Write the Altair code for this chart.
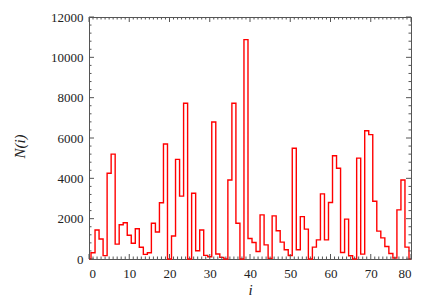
import altair as alt
import pandas as pd

# N(i), i = 0..79, closed with a zero at i = 80
counts = [0, 310, 1440, 990, 165, 4250, 5200, 740, 1700, 1800,
          1175, 780, 1500, 580, 230, 310, 1770, 1340, 2790, 5700,
          0, 1140, 4940, 3120, 7720, 0, 3260, 410, 1440, 180,
          110, 6790, 250, 80, 0, 3920, 7720, 1770, 0, 10880,
          1015, 820, 370, 2190, 700, 30, 2140, 1400, 835, 455,
          175, 5490, 455, 2100, 1480, 0, 590, 950, 3230, 950,
          2800, 5120, 4500, 320, 1975, 160, 0, 5000, 240, 6360,
          6165, 2865, 1380, 1050, 620, 270, 50, 2435, 3920, 590,
          0]
bins = list(range(len(counts)))

x_major = [0, 10, 20, 30, 40, 50, 60, 70, 80]
x_minor = [v for v in range(0, 81) if v % 10]
y_major = [0, 2000, 4000, 6000, 8000, 10000, 12000]
y_minor = [v for v in range(0, 12001, 400) if v % 2000]

W, H = 322, 242
MAJ, MIN = 5, 2.5
FONT = "Liberation Serif"
FRAME = "#555555"
TXT = "#222222"

xs = alt.Scale(domain=[0, 80], nice=False, zero=False)
ys = alt.Scale(domain=[0, 12000], nice=False)

x_axis = alt.Axis(
    values=x_major, ticks=False, tickSize=0, domain=False, grid=False,
    labelFont=FONT, labelFontSize=13, labelPadding=8, labelColor=TXT,
    title="i", titleFont=FONT, titleFontStyle="italic", titleFontWeight="normal",
    titleFontSize=15, titleColor=TXT, titleY=35, titleBaseline="alphabetic")
y_axis = alt.Axis(
    values=y_major, format="d", ticks=False, tickSize=0, domain=False, grid=False,
    labelFont=FONT, labelFontSize=13, labelPadding=6, labelColor=TXT,
    title="N(i)", titleFont=FONT, titleFontStyle="italic", titleFontWeight="normal",
    titleFontSize=15, titleColor=TXT, titleX=-62, titleY=H / 2 + 8)

df = pd.DataFrame({"i": bins, "N": counts})

line = alt.Chart(df).mark_line(interpolate="step", color="#ff0000", strokeWidth=1.4).encode(
    x=alt.X("i:Q", scale=xs, axis=x_axis),
    y=alt.Y("N:Q", scale=ys, axis=y_axis),
)


def xticks(vals, L):
    d = pd.DataFrame({"i": vals})
    base = alt.Chart(d).mark_rule(color=FRAME, strokeWidth=1)
    bottom = base.encode(x=alt.X("i:Q", scale=xs, axis=x_axis), y=alt.value(H), y2=alt.value(H - L))
    top = base.encode(x=alt.X("i:Q", scale=xs, axis=x_axis), y=alt.value(0), y2=alt.value(L))
    return [bottom, top]


def yticks(vals, L):
    d = pd.DataFrame({"N": vals})
    base = alt.Chart(d).mark_rule(color=FRAME, strokeWidth=1)
    left = base.encode(y=alt.Y("N:Q", scale=ys, axis=y_axis), x=alt.value(0), x2=alt.value(L))
    right = base.encode(y=alt.Y("N:Q", scale=ys, axis=y_axis), x=alt.value(W), x2=alt.value(W - L))
    return [left, right]


layers = [line] + xticks(x_major, MAJ) + xticks(x_minor, MIN) + yticks(y_major, MAJ) + yticks(y_minor, MIN)

chart = alt.layer(*layers).properties(
    width=W, height=H,
    padding={"left": 81, "top": 9, "right": 14, "bottom": 37},
    autosize=alt.AutoSizeParams(type="none"),
).configure_view(stroke=FRAME, strokeWidth=1)

chart.save("out.html", embed_options={"renderer": "svg", "actions": False})
